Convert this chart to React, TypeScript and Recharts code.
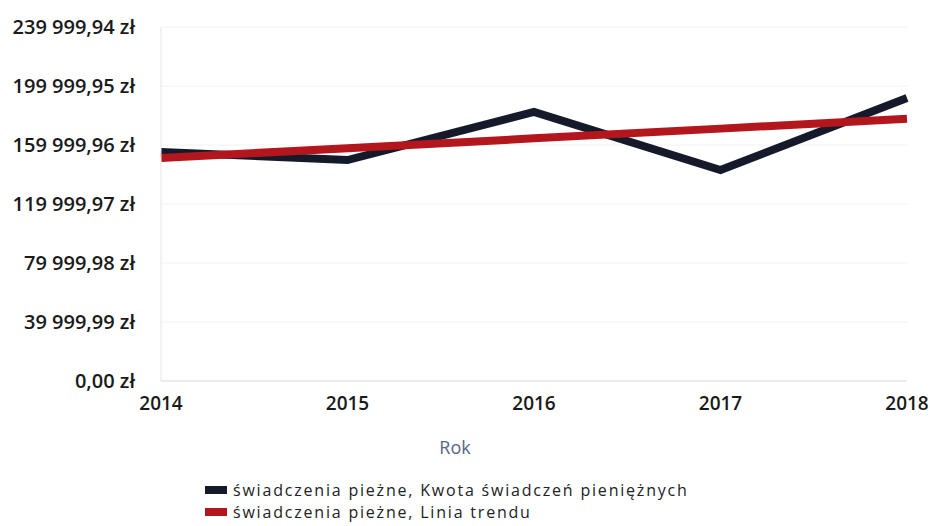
import React from 'react';
import { LineChart, Line, XAxis, YAxis, CartesianGrid, Legend } from 'recharts';

const years = ['2014', '2015', '2016', '2017', '2018'];
const kwota = [155300, 149800, 182400, 143000, 191900];
const trend = [151200, 157800, 164500, 171100, 177800];
const yTicks = [0, 39999.99, 79999.98, 119999.97, 159999.96, 199999.95, 239999.94];
const seriesNames = ['świadczenia pieżne, Kwota świadczeń pieniężnych', 'świadczenia pieżne, Linia trendu'];
const colors = ['#151a2b', '#b3161c'];
const xTitle = 'Rok';

const data = years.map((y, i) => ({ rok: y, kwota: kwota[i], trend: trend[i] }));

const fmt = (v: number) => {
  const [int, dec] = v.toFixed(2).split('.');
  return int.replace(/\B(?=(\d{3})+(?!\d))/g, ' ') + ',' + dec + ' zł';
};

const font = '"Open Sans", "Noto Sans", sans-serif';

const LegendContent = () => (
  <div style={{ fontFamily: font, fontSize: 16, fontWeight: 500, color: '#222', lineHeight: '22px', letterSpacing: 1.8 }}>
    {seriesNames.map((n, i) => (
      <div key={n} style={{ display: 'flex', alignItems: 'center', height: 22 }}>
        <span style={{ display: 'inline-block', width: 22, height: 8, background: colors[i], marginRight: 6 }} />
        <span>{n}</span>
      </div>
    ))}
  </div>
);

const XTitle = (props: any) => {
  const vb = props.viewBox || {};
  return (
    <text x={vb.x + vb.width / 2 - 79} y={vb.y + vb.height + 3} textAnchor="middle" fill="#5a6585" fontSize={18} fontFamily={font}>
      {xTitle}
    </text>
  );
};

export default function App() {
  return (
    <div style={{ position: 'absolute', left: 0, top: 0, background: '#fff' }}>
      <LineChart width={930} height={526} data={data} margin={{ top: 27, right: 23, left: 11, bottom: 31 }}>
        <CartesianGrid vertical={false} stroke="#f2f2f2" />
        <XAxis
          dataKey="rok"
          height={70}
          tickLine={false}
          axisLine={{ stroke: '#dddddd' }}
          tickMargin={10}
          tick={{ fill: '#1a1a1a', fontSize: 19, fontFamily: font, fontWeight: 600 }}
          label={<XTitle />}
        />
        <YAxis
          width={150}
          domain={[0, 239999.94]}
          ticks={yTicks}
          tickFormatter={fmt}
          tickLine={false}
          axisLine={{ stroke: '#e4e4e4' }}
          tickMargin={20}
          tick={{ fill: '#1a1a1a', fontSize: 20, fontFamily: font, fontWeight: 600 }}
        />
        <Legend
          content={<LegendContent />}
          wrapperStyle={{ left: 205, top: 479, width: 700, height: 44 }}
        />
        <Line dataKey="kwota" name={seriesNames[0]} stroke={colors[0]} strokeWidth={8} dot={false} isAnimationActive={false} strokeLinejoin="miter" />
        <Line dataKey="trend" name={seriesNames[1]} stroke={colors[1]} strokeWidth={8} dot={false} isAnimationActive={false} />
      </LineChart>
    </div>
  );
}
